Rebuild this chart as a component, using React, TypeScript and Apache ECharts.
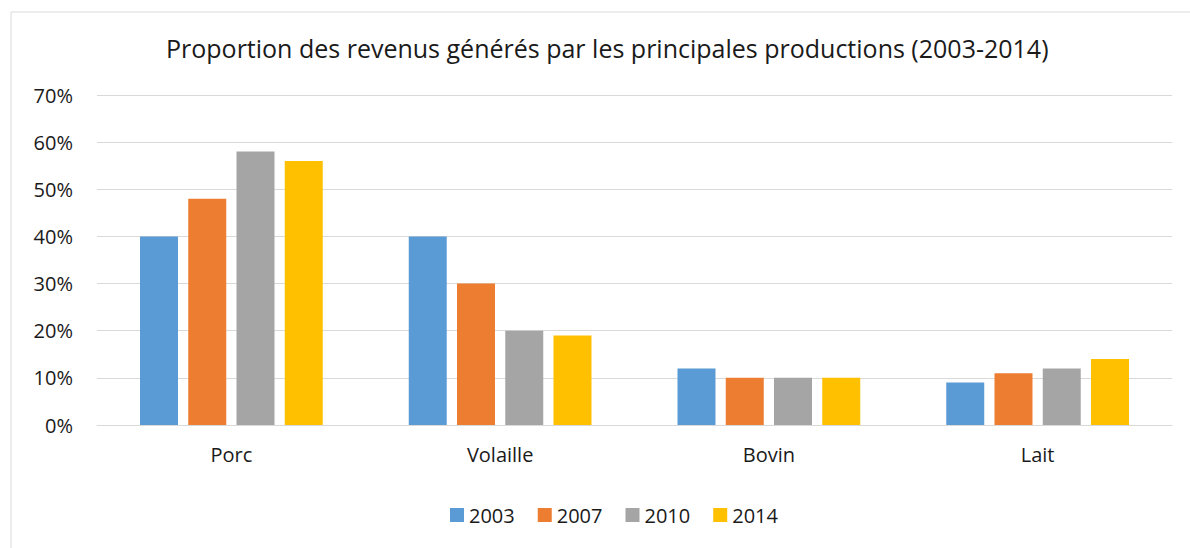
import React, { useEffect, useRef } from "react";
import * as echarts from "echarts";

const categories = ["Porc", "Volaille", "Bovin", "Lait"];
const years = ["2003", "2007", "2010", "2014"];
const s2003 = [40, 40, 12, 9];
const s2007 = [48, 30, 10, 11];
const s2010 = [58, 20, 10, 12];
const s2014 = [56, 19, 10, 14];
const colors = ["#5B9BD5", "#ED7D31", "#A5A5A5", "#FFC000"];
const titleText = "Proportion des revenus générés par les principales productions (2003-2014)";

export default function App() {
  const ref = useRef<HTMLDivElement>(null);
  useEffect(() => {
    const chart = echarts.init(ref.current!, null, { renderer: "svg" });
    const font = "Open Sans";
    const seriesData = [s2003, s2007, s2010, s2014];
    chart.setOption({
      animation: false,
      backgroundColor: "#fff",
      color: colors,
      textStyle: { fontFamily: font },
      title: {
        text: titleText,
        left: 161,
        top: 30,
        textStyle: { fontFamily: font, fontSize: 25, fontWeight: "normal", color: "#1a1a1a" },
      },
      graphic: [
        {
          type: "rect",
          shape: { x: 11, y: 12, width: 1200, height: 600 },
          style: { fill: "none", stroke: "#d9d9d9", lineWidth: 1 },
          silent: true,
        },
      ],
      legend: {
        data: years,
        top: 500,
        left: 445,
        itemWidth: 14,
        itemHeight: 14,
        itemGap: 23,
        icon: "rect",
        textStyle: { fontFamily: font, fontSize: 20, color: "#1a1a1a" },
      },
      grid: { left: 97, right: 18, top: 95, bottom: 123 },
      xAxis: {
        type: "category",
        data: categories,
        axisLine: { lineStyle: { color: "#d9d9d9" } },
        axisTick: { show: false },
        axisLabel: { fontFamily: font, fontSize: 20, color: "#1a1a1a", margin: 19 },
      },
      yAxis: {
        type: "value",
        min: 0,
        max: 70,
        interval: 10,
        axisLabel: {
          formatter: "{value}%",
          fontFamily: font,
          fontSize: 20,
          color: "#1a1a1a",
          margin: 24,
        },
        splitLine: { lineStyle: { color: "#d9d9d9", width: 1 } },
        axisLine: { show: false },
        axisTick: { show: false },
      },
      series: years.map((y, i) => ({
        name: y,
        type: "bar",
        data: seriesData[i],
        barGap: "27%",
        barCategoryGap: "32%",
        itemStyle: { color: colors[i] },
      })),
    });
    return () => chart.dispose();
  }, []);
  return (
    <div
      ref={ref}
      style={{ position: "fixed", left: 0, top: 0, width: 1190, height: 548 }}
    />
  );
}
